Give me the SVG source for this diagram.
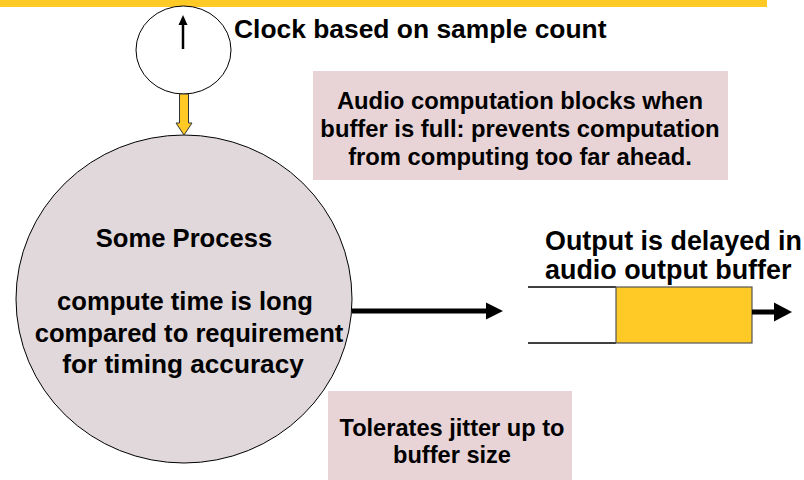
<svg xmlns="http://www.w3.org/2000/svg" width="804" height="480" viewBox="0 0 804 480">
  <style>
    .lbl { font-family: "Liberation Sans", Arial, sans-serif; font-weight: bold; fill: #000; }
    .mid { text-anchor: middle; }
    .note { fill: #E8D4D6; }
    .wire { stroke: #000; stroke-width: 5; fill: none; }
    .head { fill: #000; }
  </style>

  <!-- title bar -->
  <rect x="0" y="0" width="767" height="7" fill="#FFC926"/>

  <!-- clock -->
  <g id="clock">
    <ellipse cx="183.5" cy="50" rx="47.5" ry="44" fill="#fff" stroke="#000" stroke-width="1"/>
    <line x1="183" y1="49" x2="183" y2="22" stroke="#000" stroke-width="2.5"/>
    <polygon points="183,15 187.5,25 178.5,25" fill="#000"/>
  </g>
  <g id="clock-label">
    <text class="lbl" x="234" y="38" font-size="26.4">Clock based on sample count</text>
  </g>

  <!-- note about blocking -->
  <g id="note-blocking">
    <rect class="note" x="313" y="71" width="415" height="109"/>
    <text class="lbl mid" x="520" y="109" font-size="23.8">Audio computation blocks when</text>
    <text class="lbl mid" x="520" y="137" font-size="23.8">buffer is full: prevents computation</text>
    <text class="lbl mid" x="520" y="165" font-size="23.8">from computing too far ahead.</text>
  </g>

  <!-- process -->
  <g id="process">
    <ellipse cx="184" cy="299" rx="168" ry="164" fill="#E0D8DA" stroke="#000" stroke-width="1"/>
    <text class="lbl mid" x="184" y="247" font-size="25.6">Some Process</text>
    <text class="lbl mid" x="185" y="310" font-size="25.6">compute time is long</text>
    <text class="lbl mid" x="189" y="342" font-size="25.6">compared to requirement</text>
    <text class="lbl mid" x="183" y="373" font-size="26.2">for timing accuracy</text>
  </g>

  <!-- output buffer -->
  <g id="buffer">
    <line x1="528" y1="287" x2="616" y2="287" stroke="#000" stroke-width="1.5"/>
    <line x1="528" y1="343" x2="616" y2="343" stroke="#000" stroke-width="1.5"/>
    <rect x="616" y="287" width="136" height="56" fill="#FFC926" stroke="#555" stroke-width="1.2"/>
  </g>
  <g id="buffer-label">
    <text class="lbl" x="545" y="250" font-size="26.9">Output is delayed in</text>
    <text class="lbl" x="545" y="279" font-size="26.9">audio output buffer</text>
  </g>

  <!-- jitter note -->
  <g id="note-jitter">
    <rect class="note" x="328" y="391" width="244" height="89"/>
    <text class="lbl mid" x="452" y="436" font-size="23.6">Tolerates jitter up to</text>
    <text class="lbl mid" x="452" y="463" font-size="23.6">buffer size</text>
  </g>

  <!-- connectors -->
  <g id="connectors">
    <polygon points="179.5,94 188.5,94 188.5,123 192,123 184,135 176,123 179.5,123" fill="#FFC926" stroke="#333" stroke-width="1"/>
    <line class="wire" x1="352" y1="311" x2="488" y2="311"/>
    <polygon class="head" points="486,302.5 503,311 486,319.5"/>
    <line class="wire" x1="752" y1="312" x2="776" y2="312"/>
    <polygon class="head" points="774,302.5 792,312 774,321.5"/>
  </g>
</svg>
